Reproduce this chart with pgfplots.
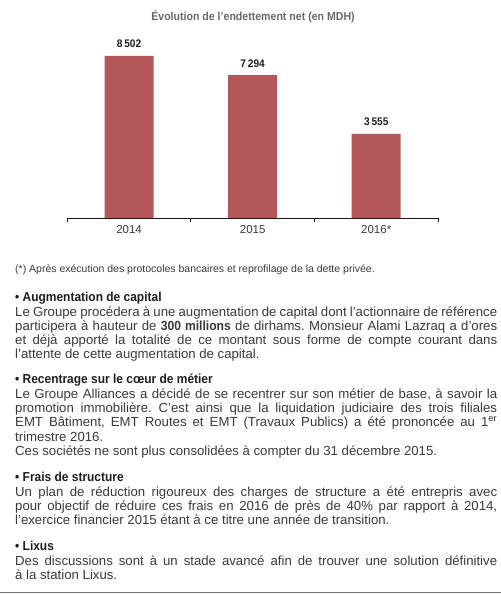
\documentclass[border=0pt]{standalone}
\usepackage{pgfplots}
\pgfplotsset{compat=1.18}
\usepackage{fontspec}
\setmainfont{Liberation Sans}[BoldFeatures={FakeStretch=0.92}]
\frenchspacing
\definecolor{barred}{RGB}{180,87,89}
\definecolor{bodytxt}{RGB}{58,58,58}
\definecolor{headtxt}{RGB}{30,30,30}
\definecolor{titletxt}{RGB}{105,105,105}
\newcommand{\jl}[1]{\makebox[482bp][s]{#1}}
\newcommand{\bodyfont}{\fontsize{13.2bp}{14bp}\selectfont\color{bodytxt}}
\newcommand{\headfont}{\fontsize{13bp}{14bp}\selectfont\bfseries\color{headtxt}}
\begin{document}
\begin{tikzpicture}
\useasboundingbox (0,0) rectangle (501bp,595bp);
\begin{axis}[
  at={(67.3bp,377bp)}, anchor=south west,
  scale only axis, width=370.7bp, height=168bp,
  xmin=-0.5, xmax=2.5,
  ymin=-1773, ymax=8882,
  y coord trafo/.code={\pgfmathparse{#1+1773}},
  y coord inv trafo/.code={\pgfmathparse{#1-1773}},
  axis x line*=bottom, axis y line=none,
  x axis line style={line width=0.9bp, color=black!90},
  xtick={0,1,2}, xticklabels={2014,2015,2016*},
  major tick length=0pt,
  minor xtick={-0.5,0.5,1.5,2.5},
  minor tick length=4bp, tick align=outside,
  minor tick style={line width=0.9bp, color=black!90},
  xticklabel style={anchor=base, yshift=-16bp, inner sep=0pt, font=\fontsize{11.5bp}{12bp}\selectfont, color=bodytxt},
  /pgf/number format/assume math mode=true,
  /pgf/number format/1000 sep={\,},
  clip=false,
]
\addplot[ybar, bar width=49bp, fill=barred, draw=none,
  point meta=rawy,
  nodes near coords={\pgfmathprintnumber{\pgfplotspointmeta}},
  every node near coord/.append style={anchor=base, yshift=8bp, inner sep=0pt, font=\fontsize{11bp}{12bp}\selectfont\bfseries, color=headtxt}]
  coordinates {(0,8502) (1,7294) (2,3555)};
\end{axis}
\node[anchor=base, inner sep=0pt, font=\fontsize{11.5bp}{12bp}\selectfont\bfseries, color=titletxt] at (253bp,574.5bp) {Évolution de l’endettement net (en MDH)};
\node[anchor=base west, inner sep=0pt, font=\fontsize{10.5bp}{11bp}\selectfont, color=bodytxt] at (15bp,322bp) {(*) Après exécution des protocoles bancaires et reprofilage de la dette privée.};
% Section 1
\node[anchor=base west, inner sep=0pt] at (15bp,293.3bp) {\headfont • Augmentation de capital};
\node[anchor=base west, inner sep=0pt] at (15bp,278.3bp) {\bodyfont\jl{Le Groupe procédera à une augmentation de capital dont l’actionnaire de référence}};
\node[anchor=base west, inner sep=0pt] at (15bp,264.3bp) {\bodyfont\jl{participera à hauteur de \textbf{300 millions} de dirhams. Monsieur Alami Lazraq a d’ores}};
\node[anchor=base west, inner sep=0pt] at (15bp,250.3bp) {\bodyfont\jl{et déjà apporté la totalité de ce montant sous forme de compte courant dans}};
\node[anchor=base west, inner sep=0pt] at (15bp,236.3bp) {\bodyfont l’attente de cette augmentation de capital.};
% Section 2
\node[anchor=base west, inner sep=0pt] at (15bp,211bp) {\headfont • Recentrage sur le cœur de métier};
\node[anchor=base west, inner sep=0pt] at (15bp,196bp) {\bodyfont\jl{Le Groupe Alliances a décidé de se recentrer sur son métier de base, à savoir la}};
\node[anchor=base west, inner sep=0pt] at (15bp,182bp) {\bodyfont\jl{promotion immobilière. C’est ainsi que la liquidation judiciaire des trois filiales}};
\node[anchor=base west, inner sep=0pt] at (15bp,168bp) {\bodyfont\jl{EMT Bâtiment, EMT Routes et EMT (Travaux Publics) a été prononcée au 1\textsuperscript{er}}};
\node[anchor=base west, inner sep=0pt] at (15bp,153bp) {\bodyfont trimestre 2016.};
\node[anchor=base west, inner sep=0pt] at (15bp,139bp) {\bodyfont Ces sociétés ne sont plus consolidées à compter du 31 décembre 2015.};
% Section 3
\node[anchor=base west, inner sep=0pt] at (15bp,113.3bp) {\headfont • Frais de structure};
\node[anchor=base west, inner sep=0pt] at (15bp,98.4bp) {\bodyfont\jl{Un plan de réduction rigoureux des charges de structure a été entrepris avec}};
\node[anchor=base west, inner sep=0pt] at (15bp,84.4bp) {\bodyfont\jl{pour objectif de réduire ces frais en 2016 de près de 40\% par rapport à 2014,}};
\node[anchor=base west, inner sep=0pt] at (15bp,70.4bp) {\bodyfont l’exercice financier 2015 étant à ce titre une année de transition.};
% Section 4
\node[anchor=base west, inner sep=0pt] at (15bp,44.8bp) {\headfont • Lixus};
\node[anchor=base west, inner sep=0pt] at (15bp,29.5bp) {\bodyfont\jl{Des discussions sont à un stade avancé afin de trouver une solution définitive}};
\node[anchor=base west, inner sep=0pt] at (15bp,15.4bp) {\bodyfont à la station Lixus.};
\draw[color=black!55, line width=1.2bp] (0bp,2.3bp) -- (501bp,2.3bp);
\end{tikzpicture}
\end{document}
